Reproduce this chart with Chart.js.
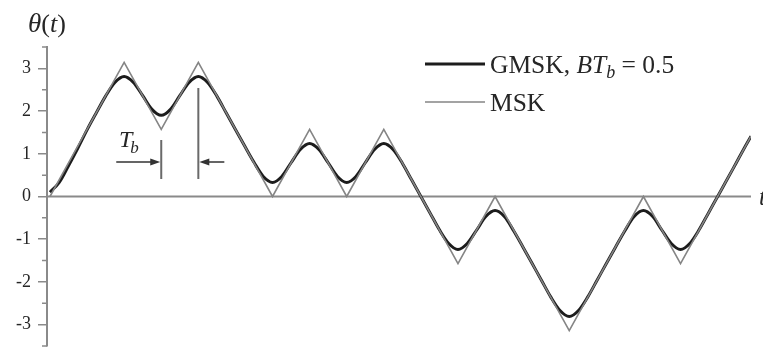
<!DOCTYPE html>
<html>
<head>
<meta charset="utf-8">
<script src="https://cdn.jsdelivr.net/npm/chart.js@4.4.1/dist/chart.umd.min.js"></script>
<style>
  html, body { margin: 0; padding: 0; background: #ffffff; }
  #wrap { width: 763px; height: 349px; }
</style>
</head>
<body>
<div id="wrap"><canvas id="phase" width="763" height="349"></canvas></div>
<script>
// Phase trajectory theta(t) of MSK and GMSK (BT_b = 0.5), time in bit periods T_b.

// MSK: piecewise-linear phase, value at each bit boundary (rad)
const mskTime = [0, 1, 2, 3, 4, 5, 6, 7, 8, 9, 10, 11, 12, 13, 14, 15, 16, 17, 18, 18.9];
const mskPhase = [0, 1.571, 3.142, 1.571, 3.142, 1.571, 0, 1.571, 0, 1.571,
                  0, -1.571, 0, -1.571, -3.142, -1.571, 0, -1.571, 0, 1.414];

// GMSK: smoothed phase sampled every quarter bit (rad)
const gmskTime = [
  0, 0.25, 0.5, 0.75, 1, 1.25, 1.5, 1.75, 2, 2.25, 2.5, 2.75,
  3, 3.25, 3.5, 3.75, 4, 4.25, 4.5, 4.75, 5, 5.25, 5.5, 5.75,
  6, 6.25, 6.5, 6.75, 7, 7.25, 7.5, 7.75, 8, 8.25, 8.5, 8.75,
  9, 9.25, 9.5, 9.75, 10, 10.25, 10.5, 10.75, 11, 11.25, 11.5, 11.75,
  12, 12.25, 12.5, 12.75, 13, 13.25, 13.5, 13.75, 14, 14.25, 14.5, 14.75,
  15, 15.25, 15.5, 15.75, 16, 16.25, 16.5, 16.75, 17, 17.25, 17.5, 17.75,
  18, 18.25, 18.5, 18.75, 18.9
];
const gmskPhase = [
  0.10, 0.33, 0.72, 1.13,   1.56, 1.96, 2.35, 2.67,   2.81, 2.67, 2.36, 2.04,
  1.90, 2.04, 2.36, 2.67,   2.81, 2.67, 2.35, 1.96,   1.57, 1.18, 0.80, 0.47,
  0.33, 0.47, 0.79, 1.10,   1.24, 1.10, 0.79, 0.47,   0.33, 0.47, 0.79, 1.10,
  1.24, 1.10, 0.78, 0.39,   0.00, -0.39, -0.78, -1.10, -1.24, -1.10, -0.79, -0.47,
  -0.33, -0.47, -0.80, -1.18, -1.57, -1.96, -2.35, -2.67, -2.81, -2.67, -2.35, -1.96,
  -1.57, -1.18, -0.80, -0.47, -0.33, -0.47, -0.79, -1.10, -1.24, -1.10, -0.78, -0.39,
  0.00, 0.39, 0.785, 1.18, 1.41
];

// axis ticks
const yTickValues = [-3, -2, -1, 0, 1, 2, 3];
const yMinorTicks = [-3.5, -2.5, -1.5, -0.5, 0.5, 1.5, 2.5, 3.5];

const SERIF = '"Liberation Serif", "Times New Roman", serif';
const AXIS_COLOR = '#8a8a8a';
const GMSK_COLOR = '#1c1c1c';
const MSK_COLOR = '#858585';
const TEXT_COLOR = '#262626';

const toPoints = (xs, ys) => xs.map((x, i) => ({ x, y: ys[i] }));

// draws a run of text pieces, each with its own font and baseline shift
function drawRuns(ctx, x, y, runs) {
  let cx = x;
  for (const r of runs) {
    ctx.font = r.font;
    ctx.fillText(r.text, cx, y + (r.dy || 0));
    cx += ctx.measureText(r.text).width + (r.gap || 0);
  }
}

function arrowHead(ctx, tipX, tipY, dir) {
  ctx.beginPath();
  ctx.moveTo(tipX, tipY);
  ctx.lineTo(tipX - dir * 10, tipY - 3.5);
  ctx.lineTo(tipX - dir * 10, tipY + 3.5);
  ctx.closePath();
  ctx.fill();
}

const decor = {
  id: 'decor',
  beforeDatasetsDraw(chart) {
    const { ctx, chartArea: a, scales: { y } } = chart;
    ctx.save();
    // time axis through theta = 0
    const y0 = y.getPixelForValue(0);
    ctx.strokeStyle = AXIS_COLOR;
    ctx.lineWidth = 2;
    ctx.beginPath();
    ctx.moveTo(a.left, y0);
    ctx.lineTo(a.right, y0);
    ctx.stroke();
    // minor ticks on the phase axis
    ctx.lineWidth = 1.5;
    ctx.beginPath();
    for (const v of yMinorTicks) {
      const py = y.getPixelForValue(v);
      ctx.moveTo(a.left - 5, py);
      ctx.lineTo(a.left, py);
    }
    ctx.stroke();
    ctx.restore();
  },
  afterDraw(chart) {
    const { ctx, chartArea: a, scales: { x, y } } = chart;
    ctx.save();
    ctx.fillStyle = TEXT_COLOR;
    ctx.textBaseline = 'alphabetic';
    ctx.textAlign = 'left';

    // axis titles
    drawRuns(ctx, 28, 32, [
      { text: 'θ', font: 'italic 27px ' + SERIF },
      { text: '(', font: '26px ' + SERIF },
      { text: 't', font: 'italic 26px ' + SERIF },
      { text: ')', font: '26px ' + SERIF }
    ]);
    drawRuns(ctx, a.right + 8, y.getPixelForValue(0) + 8, [
      { text: 't', font: 'italic 25px ' + SERIF }
    ]);

    // legend
    ctx.lineCap = 'butt';
    ctx.strokeStyle = GMSK_COLOR;
    ctx.lineWidth = 3;
    ctx.beginPath(); ctx.moveTo(425, 64); ctx.lineTo(485, 64); ctx.stroke();
    ctx.strokeStyle = MSK_COLOR;
    ctx.lineWidth = 1.5;
    ctx.beginPath(); ctx.moveTo(425, 102); ctx.lineTo(485, 102); ctx.stroke();
    drawRuns(ctx, 490, 73, [
      { text: 'GMSK, ', font: '25.5px ' + SERIF },
      { text: 'BT', font: 'italic 25.5px ' + SERIF },
      { text: 'b', font: 'italic 18px ' + SERIF, dy: 5 },
      { text: ' = 0.5', font: '25.5px ' + SERIF }
    ]);
    drawRuns(ctx, 490, 111, [{ text: 'MSK', font: '25.5px ' + SERIF }]);

    // bit period marker between t = 3 and t = 4
    const xa = x.getPixelForValue(3);
    const xb = x.getPixelForValue(4);
    const yArrow = 162;
    ctx.strokeStyle = '#6a6a6a';
    ctx.lineWidth = 2;
    ctx.beginPath();
    ctx.moveTo(xa, 140); ctx.lineTo(xa, 179);
    ctx.moveTo(xb, 88); ctx.lineTo(xb, 179);
    ctx.stroke();
    ctx.strokeStyle = '#333333';
    ctx.fillStyle = '#333333';
    ctx.lineWidth = 1.5;
    ctx.beginPath();
    ctx.moveTo(xa - 45, yArrow); ctx.lineTo(xa - 6, yArrow);
    ctx.moveTo(xb + 26, yArrow); ctx.lineTo(xb + 6, yArrow);
    ctx.stroke();
    arrowHead(ctx, xa - 1, yArrow, 1);
    arrowHead(ctx, xb + 1, yArrow, -1);
    ctx.fillStyle = TEXT_COLOR;
    drawRuns(ctx, 119, 147, [
      { text: 'T', font: 'italic 24px ' + SERIF, gap: -2 },
      { text: 'b', font: 'italic 17px ' + SERIF, dy: 6 }
    ]);
    ctx.restore();
  }
};

new Chart(document.getElementById('phase'), {
  type: 'line',
  data: {
    datasets: [
      {
        label: 'MSK',
        data: toPoints(mskTime, mskPhase),
        borderColor: MSK_COLOR,
        borderWidth: 1.6,
        pointRadius: 0,
        tension: 0,
        fill: false
      },
      {
        label: 'GMSK, BTb = 0.5',
        data: toPoints(gmskTime, gmskPhase),
        borderColor: GMSK_COLOR,
        borderWidth: 3,
        pointRadius: 0,
        cubicInterpolationMode: 'monotone',
        fill: false
      }
    ]
  },
  options: {
    responsive: false,
    animation: false,
    devicePixelRatio: 1,
    layout: { padding: { top: 47, right: 12, bottom: 3, left: 0 } },
    plugins: { legend: { display: false }, tooltip: { enabled: false } },
    scales: {
      x: {
        type: 'linear',
        min: -0.08,
        max: 18.9,
        display: false
      },
      y: {
        type: 'linear',
        min: -3.5,
        max: 3.5,
        afterFit(scale) {
          scale.width = 47;
          scale.paddingTop = 0;
          scale.paddingBottom = 0;
        },
        afterBuildTicks(scale) { scale.ticks = yTickValues.map(v => ({ value: v })); },
        grid: {
          drawOnChartArea: false,
          drawTicks: true,
          tickLength: 9,
          color: AXIS_COLOR,
          lineWidth: 1.5
        },
        border: { display: true, color: AXIS_COLOR, width: 2 },
        ticks: {
          padding: 7,
          color: TEXT_COLOR,
          font: { family: SERIF, size: 18 }
        }
      }
    }
  },
  plugins: [decor]
});
</script>
</body>
</html>
